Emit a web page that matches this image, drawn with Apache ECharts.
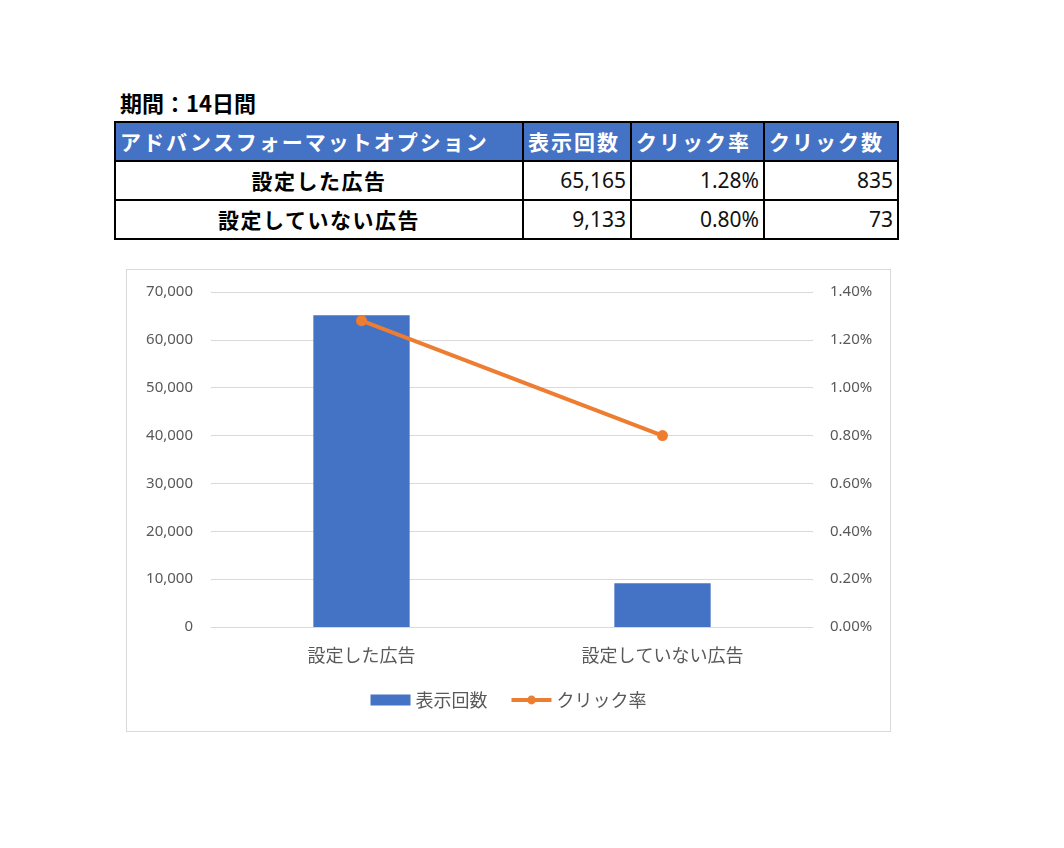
<!DOCTYPE html>
<html>
<head>
<meta charset="utf-8">
<script src="https://cdn.jsdelivr.net/npm/echarts@6/dist/echarts.min.js"></script>
<style>
	body{
		margin:0;
		width:1064px;
		height:848px;
		background:#fff;
		position:relative;
		font-family:"Noto Sans CJK JP","Noto Sans",sans-serif;
	}
	.period-title{
		position:absolute;
		left:120px;
		top:87px;
		font-size:22px;
		font-weight:bold;
		line-height:30px;
	}
	.data-table{
		position:absolute;
		left:114px;
		top:121px;
		width:785px;
		table-layout:fixed;
		border-collapse:collapse;
	}
	.data-table th,.data-table td{
		border:2px solid #000;
		height:37px;
		padding:0 4px;
		font-size:21px;
		line-height:35px;
		white-space:nowrap;
		overflow:hidden;
	}
	.data-table th{
		background:#4472C4;
		color:#fff;
		text-align:left;
		letter-spacing:2px;
	}
	.data-table td.name{
		text-align:center;
		font-weight:bold;
		letter-spacing:1.5px;
	}
	.data-table td.num{
		text-align:right;
		font-family:"Noto Sans",sans-serif;
		font-size:21px;
		color:#111;
	}
	.chart-box{
		position:absolute;
		left:126px;
		top:269px;
		width:763px;
		height:461px;
		border:1px solid #d9d9d9;
	}
</style>
</head>
<body>
	<div class="period-title">期間：14日間</div>
	<table class="data-table" id="data-table"></table>
	<div class="chart-box" id="chart-box"></div>
<script>
// 表と図のデータ
const headers = ['アドバンスフォーマットオプション', '表示回数', 'クリック率', 'クリック数']
const categories = ['設定した広告', '設定していない広告']
const impressions = [65165, 9133]
const clickRates = [1.28, 0.80]   // %
const clicks = [835, 73]
const colWidths = [408, 108, 133, 134]

// 表を作る
let table = document.getElementById('data-table')
let html = '<colgroup>'
for (let i = 0; i < colWidths.length; i++) {
	html += '<col style="width:' + colWidths[i] + 'px">'
}
html += '</colgroup><tr>'
for (let i = 0; i < headers.length; i++) {
	html += '<th>' + headers[i] + '</th>'
}
html += '</tr>'
for (let r = 0; r < categories.length; r++) {
	html += '<tr>'
	html += '<td class="name">' + categories[r] + '</td>'
	html += '<td class="num">' + impressions[r].toLocaleString('en-US') + '</td>'
	html += '<td class="num">' + clickRates[r].toFixed(2) + '%</td>'
	html += '<td class="num">' + clicks[r].toLocaleString('en-US') + '</td>'
	html += '</tr>'
}
table.innerHTML = html

// グラフ
let myChart = echarts.init(document.getElementById('chart-box'), null, {renderer: 'canvas'})
let labelColor = '#595959'
let numFont = '"Noto Sans", sans-serif'
let jpFont = '"Noto Sans CJK JP", sans-serif'
let option = {
	backgroundColor: '#fff',
	animation: false,
	grid: {
		left: 84,
		right: 77,
		top: 22,
		bottom: 104,
		containLabel: false
	},
	legend: {
		top: 416,
		left: 'center',
		itemWidth: 40,
		itemHeight: 11,
		itemGap: 22,
		textStyle: {
			color: labelColor,
			fontSize: 18,
			fontFamily: jpFont
		},
		data: [
			{name: '表示回数', icon: 'rect'},
			{name: 'クリック率', lineStyle: {width: 4}}
		]
	},
	xAxis: {
		type: 'category',
		data: categories,
		axisLine: {lineStyle: {color: '#d9d9d9', width: 1}},
		axisTick: {show: false},
		axisLabel: {
			color: labelColor,
			fontSize: 18,
			fontFamily: jpFont,
			margin: 19
		}
	},
	yAxis: [
		{
			type: 'value',
			min: 0,
			max: 70000,
			interval: 10000,
			axisLine: {show: false},
			axisTick: {show: false},
			splitLine: {lineStyle: {color: '#d9d9d9', width: 1}},
			axisLabel: {
				color: labelColor,
				fontSize: 15,
				fontFamily: numFont,
				margin: 18,
				formatter: function (v) { return v.toLocaleString('en-US') }
			}
		},
		{
			type: 'value',
			min: 0,
			max: 1.4,
			interval: 0.2,
			axisLine: {show: false},
			axisTick: {show: false},
			splitLine: {show: false},
			axisLabel: {
				color: labelColor,
				fontSize: 15,
				fontFamily: numFont,
				margin: 17,
				formatter: function (v) { return v.toFixed(2) + '%' }
			}
		}
	],
	series: [
		{
			name: '表示回数',
			type: 'bar',
			yAxisIndex: 0,
			barWidth: '32%',
			itemStyle: {color: '#4472C4'},
			data: impressions
		},
		{
			name: 'クリック率',
			type: 'line',
			yAxisIndex: 1,
			symbol: 'circle',
			symbolSize: 11,
			lineStyle: {color: '#ED7D31', width: 4},
			itemStyle: {color: '#ED7D31'},
			data: clickRates
		}
	]
}
myChart.setOption(option)
</script>
</body>
</html>
